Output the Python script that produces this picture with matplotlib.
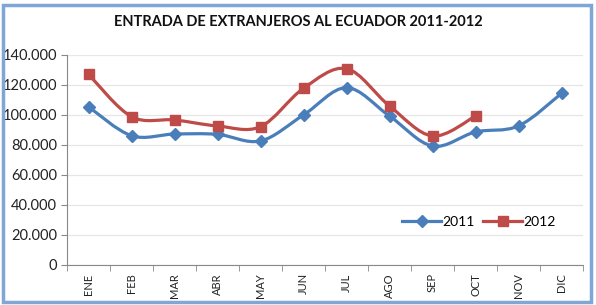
import matplotlib
matplotlib.use("Agg")
import matplotlib.pyplot as plt
from matplotlib.path import Path
from matplotlib.patches import PathPatch, Rectangle
from matplotlib.lines import Line2D
import numpy as np

months = ["ENE", "FEB", "MAR", "ABR", "MAY", "JUN", "JUL", "AGO", "SEP", "OCT", "NOV", "DIC"]
s2011 = [105500, 86200, 87300, 87100, 82700, 100000, 118200, 99300, 79300, 88700, 92700, 114400]
s2012 = [127100, 98900, 96700, 92700, 92200, 117800, 130900, 106000, 86000, 99300]
yticks = [0, 20000, 40000, 60000, 80000, 100000, 120000, 140000]
title = "ENTRADA DE EXTRANJEROS AL ECUADOR 2011-2012"

plt.rcParams['font.family'] = ['Lato', 'DejaVu Sans']

fig = plt.figure(figsize=(5.96, 3.05), dpi=100)
ax = fig.add_axes([67/596, 1-265/305, (583-67)/596, (265-55)/305])


def smooth_path(xs, ys, t=1/6):
    xs = np.asarray(xs, float); ys = np.asarray(ys, float)
    n = len(xs)
    verts = [(xs[0], ys[0])]
    codes = [Path.MOVETO]
    for i in range(n - 1):
        p0 = (xs[max(i-1, 0)], ys[max(i-1, 0)])
        p1 = (xs[i], ys[i]); p2 = (xs[i+1], ys[i+1])
        p3 = (xs[min(i+2, n-1)], ys[min(i+2, n-1)])
        c1 = (p1[0] + (p2[0]-p0[0])*t, p1[1] + (p2[1]-p0[1])*t)
        c2 = (p2[0] - (p3[0]-p1[0])*t, p2[1] - (p3[1]-p1[1])*t)
        verts += [c1, c2, p2]
        codes += [Path.CURVE4]*3
    return Path(verts, codes)

blue = "#4a7ebb"; red = "#be4b48"
for data, col, mk, ms in [(s2011, blue, "D", 6.5), (s2012, red, "s", 7)]:
    x = np.arange(len(data))
    ax.add_patch(PathPatch(smooth_path(x, data), fill=False, edgecolor=col, lw=2.3, zorder=3))
    ax.plot(x, data, linestyle="none", marker=mk, ms=ms, mfc=col, mec=col, zorder=4)

ax.set_xlim(-0.5, 11.5)
ax.set_ylim(0, 140000)
ax.set_yticks(yticks)
ax.set_yticklabels([f"{v:,}".replace(",", ".") for v in yticks], fontsize=10.5, color="#222222")
ax.set_xticks(range(12))
ax.set_xticklabels(months, rotation=90, fontsize=8, color="#222222")
ax.set_xticks(np.arange(-0.5, 12, 1), minor=True)
ax.tick_params(axis="x", which="major", length=0, pad=6)
ax.tick_params(axis="x", which="minor", length=4, color="#888888")
ax.tick_params(axis="y", length=4, color="#888888", pad=3)
ax.grid(axis="y", color="#e6e6e6", lw=0.9)
ax.set_axisbelow(True)
for s in ["top", "right"]:
    ax.spines[s].set_visible(False)
for s in ["left", "bottom"]:
    ax.spines[s].set_color("#888888")

handles = [Line2D([], [], color=blue, lw=2.3, marker="D", ms=6.5, label="2011"),
           Line2D([], [], color=red, lw=2.3, marker="s", ms=7, label="2012")]
ax.legend(handles=handles, loc="center left", bbox_to_anchor=(0.65, 0.205), ncol=2, frameon=False,
          fontsize=10, handlelength=2.8, handletextpad=0.1, columnspacing=0.6,
          borderaxespad=0, borderpad=0)

fig.text(0.5, 1-22/305, title, ha="center", va="center", fontsize=10.5, fontweight="bold", color="#111111")

fig.patches.append(Rectangle((3/596, 3/305), 588/596, 297/305, transform=fig.transFigure,
                             fill=False, edgecolor="#7fa6d6", lw=2.5))

fig.savefig("out.png", dpi=100)
